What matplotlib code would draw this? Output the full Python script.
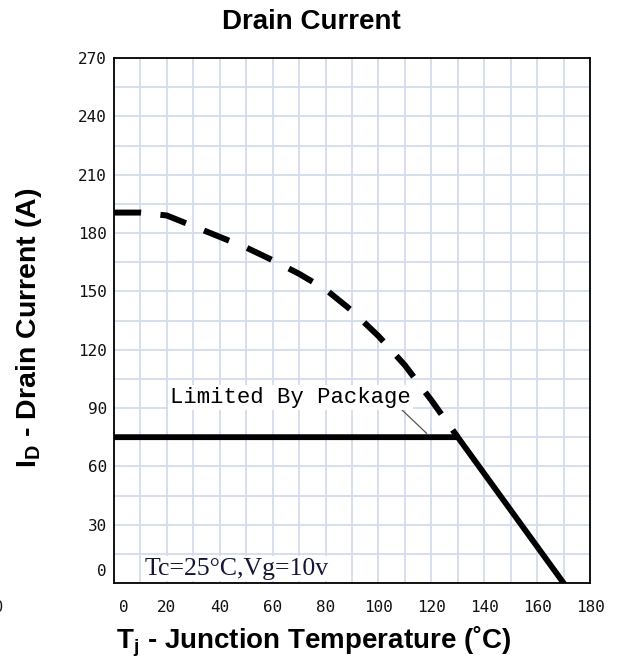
import matplotlib
matplotlib.use("Agg")
import matplotlib.pyplot as plt
from matplotlib.ticker import MultipleLocator
import matplotlib.transforms as mtransforms

# ---- data ----
temp_dashed = [0, 10, 20, 30, 40, 50, 60, 70, 80, 90, 100, 110, 120, 130]
curr_dashed = [190.5, 190.5, 189, 183.5, 178, 172.5, 166, 159, 151, 140, 127, 112, 94, 75]
temp_solid = [0, 130, 170]
curr_solid = [75, 75, 0]
x_ticks = [0, 20, 40, 60, 80, 100, 120, 140, 160, 180]
y_ticks = [0, 30, 60, 90, 120, 150, 180, 210, 240, 270]

title = "Drain Current"
xlabel = r"T$_\mathregular{j}$ - Junction Temperature (˚C)"
ylabel = r"I$_\mathregular{D}$ - Drain Current (A)"
note = "Tc=25°C,Vg=10v"
annot = "Limited By Package"

plt.rcParams['lines.scale_dashes'] = False
plt.rcParams['mathtext.fontset'] = 'custom'
plt.rcParams['mathtext.rm'] = 'Liberation Sans:bold'

fig = plt.figure(figsize=(6.18, 6.59), dpi=100)
W, H = 618, 659
ax = fig.add_axes([114 / W, 1 - 583 / H, 476 / W, 525 / H])

ax.set_xlim(0, 180)
ax.set_ylim(0, 270)
ax.xaxis.set_minor_locator(MultipleLocator(10))
ax.yaxis.set_minor_locator(MultipleLocator(15))
ax.set_xticks(x_ticks)
ax.set_yticks(y_ticks)
ax.set_xticklabels([str(v) for v in x_ticks])
ax.set_yticklabels([str(v) for v in y_ticks])
ax.grid(True, which='both', color='#d3dbec', linewidth=1.3)
ax.set_axisbelow(True)
ax.tick_params(which='both', length=0)
ax.tick_params(axis='x', pad=12)
ax.tick_params(axis='y', pad=5)
for lab in ax.get_xticklabels() + ax.get_yticklabels():
    lab.set_fontfamily('DejaVu Sans Mono')
    lab.set_fontsize(11.5)
    lab.set_color('#111111')
# offsets of the "0" labels as in reference
xl0 = ax.get_xticklabels()[0]
xl0.set_transform(xl0.get_transform() + mtransforms.ScaledTranslation(10 / 100, 0, fig.dpi_scale_trans))
yl0 = ax.get_yticklabels()[0]
yl0.set_transform(yl0.get_transform() + mtransforms.ScaledTranslation(0, 13 / 100, fig.dpi_scale_trans))

for s in ax.spines.values():
    s.set_linewidth(1.3)
    s.set_color('black')

ax.plot(temp_dashed, curr_dashed, color='black', linewidth=4.3,
        dashes=(19.5, 14), solid_capstyle='butt', dash_capstyle='butt', zorder=3)
ax.plot(temp_solid, curr_solid, color='black', linewidth=4.2,
        solid_joinstyle='miter', zorder=4)

ax.plot([108.2, 118.2], [89.9, 77], color='#555555', linewidth=0.9, zorder=3)
ax.text(21.2, 92.6, annot, fontfamily='Liberation Mono', fontsize=16,
        color='black', ha='left', va='baseline', zorder=5,
        bbox=dict(facecolor='white', edgecolor='none', pad=1.5))
ax.text(11.7, 4.3, note, fontfamily='Liberation Serif', fontsize=18.5,
        color='#151535', ha='left', va='baseline', zorder=5,
        bbox=dict(facecolor='white', edgecolor='none', pad=1.0))

fig.text(311 / W, 1 - 22 / H, title, fontfamily='Liberation Sans', fontweight='bold',
         fontsize=20, ha='center', va='center')
fig.text(314 / W, 1 - 648 / H, xlabel, fontfamily='Liberation Sans', fontweight='bold',
         fontsize=20, ha='center', va='baseline')
fig.text(29 / W, 1 - 328 / H, ylabel, fontfamily='Liberation Sans', fontweight='bold',
         fontsize=20.5, ha='center', va='center', rotation=90)
fig.text(-1 / W, 1 - 607 / H, "0", fontfamily='DejaVu Sans Mono', fontsize=11,
         ha='center', va='center', color='#111111')

fig.savefig("out.png", dpi=100)
